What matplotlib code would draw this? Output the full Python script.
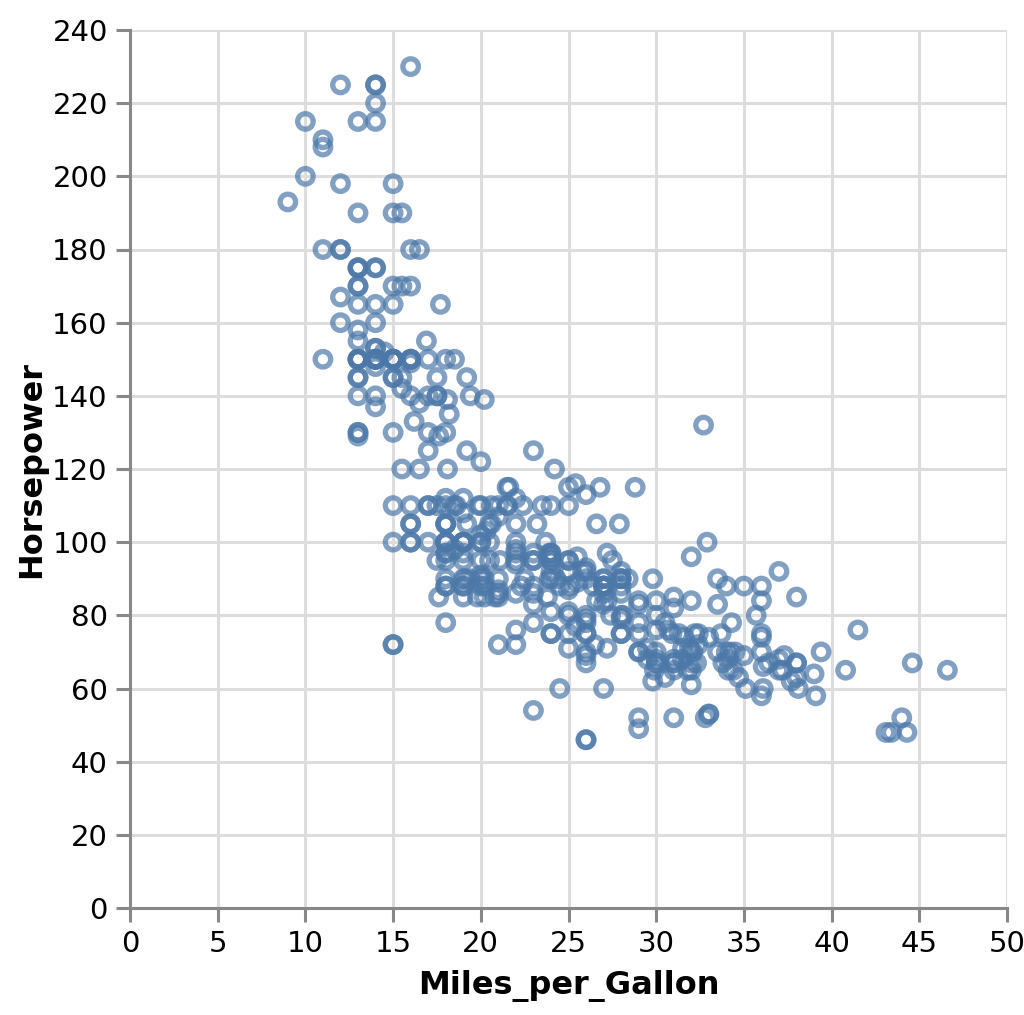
import matplotlib
matplotlib.use("Agg")
import matplotlib.pyplot as plt

# cars dataset: Miles_per_Gallon vs Horsepower (rows with missing values dropped)
mpg = [
    18, 15, 18, 16, 17, 15, 14, 14, 14, 15, 15, 14, 15, 14, 24, 22, 18, 21, 27, 26,
    25, 24, 25, 26, 21, 10, 10, 11, 9,
    27, 28, 25, 19, 16, 17, 19, 18, 14, 14, 14, 14, 12, 13, 13, 18, 22, 19, 18, 23,
    28, 30, 30, 31, 35, 27, 26,
    24, 25, 23, 20, 21, 13, 14, 15, 14, 17, 11, 13, 12, 13, 19, 15, 13, 13, 14, 18,
    22, 21, 26, 22, 28, 23, 28, 27,
    13, 14, 13, 14, 15, 12, 13, 13, 14, 13, 12, 13, 18, 16, 18, 18, 23, 26, 11, 12,
    13, 12, 18, 20, 21, 22, 18, 19, 21, 26, 15, 16, 29, 24, 20, 19, 15, 24, 20, 11,
    20, 19, 15, 31, 26, 32, 25, 16, 16, 18, 16, 13, 14, 14, 14, 29, 26, 26, 31, 32,
    28, 24, 26, 24, 26, 31,
    19, 18, 15, 15, 16, 15, 16, 14, 17, 16, 15, 18, 21, 20, 13, 29, 23, 20, 23, 24,
    25, 24, 18, 29, 19, 23, 23, 22, 25, 33,
    28, 25, 25, 26, 27, 17.5, 16, 15.5, 14.5, 22, 22, 24, 22.5, 29, 24.5, 29, 33, 20,
    18, 18.5, 17.5, 29.5, 32, 28, 26.5, 20, 13, 19, 19, 16.5, 16.5, 13, 13, 13,
    31.5, 30, 36, 25.5, 33.5, 17.5, 17, 15.5, 15, 17.5, 20.5, 19, 18.5, 16, 15.5, 15.5,
    16, 29, 24.5, 26, 25.5, 30.5, 33.5, 30, 30.5, 22, 21.5, 21.5,
    43.1, 36.1, 32.8, 39.4, 36.1, 19.9, 19.4, 20.2, 19.2, 20.5, 20.2, 25.1, 20.5, 19.4,
    20.6, 20.8, 18.6, 18.1, 19.2, 17.7, 18.1, 17.5, 30, 27.5, 27.2, 30.9, 21.1, 23.2,
    23.8, 23.9, 20.3, 17, 21.6, 16.2, 31.5, 29.5,
    21.5, 19.8, 22.3, 20.2, 20.6, 17, 17.6, 16.5, 18.2, 16.9, 15.5, 19.2, 18.5, 31.9,
    34.1, 35.7, 27.4, 25.4, 23, 27.2, 23.9, 34.2, 34.5, 31.8, 37.3, 28.4, 28.8, 26.8,
    33.5,
    41.5, 38.1, 32.1, 37.2, 28, 26.4, 24.3, 19.1, 34.3, 29.8, 31.3, 37, 32.2, 46.6,
    27.9, 40.8, 44.3, 43.4, 36.4, 30, 44.6, 33.8, 29.8, 32.7, 23.7, 35, 32.4,
    27.2, 26.6, 25.8, 23.5, 30, 39.1, 39, 35.1, 32.3, 37, 37.7, 34.1, 34.7, 34.4, 29.9,
    33, 33.7, 32.4, 32.9, 31.6, 28.1, 30.7, 25.4, 24.2, 22.4, 26.6, 20.2, 17.6,
    28, 27, 34, 31, 29, 27, 24, 36, 37, 31, 38, 36, 36, 36, 34, 38, 32, 38, 25, 38,
    26, 22, 32, 36, 27, 27, 44, 32, 28, 31,
]
horsepower = [
    130, 165, 150, 150, 140, 198, 220, 215, 225, 190, 170, 160, 150, 225, 95, 95, 97, 85, 88, 46,
    87, 90, 95, 113, 90, 215, 200, 210, 193,
    88, 90, 95, 100, 105, 100, 88, 100, 165, 175, 153, 150, 180, 170, 175, 110, 72, 100, 88, 86,
    90, 70, 76, 65, 69, 60, 70,
    95, 80, 54, 90, 86, 165, 175, 150, 153, 150, 208, 155, 160, 190, 97, 150, 130, 140, 150, 112,
    76, 87, 69, 86, 92, 97, 80, 88,
    175, 150, 145, 137, 150, 198, 150, 158, 150, 215, 225, 175, 105, 100, 100, 88, 95, 46, 150, 167,
    170, 180, 100, 88, 72, 94, 90, 85, 107, 90, 145, 230, 49, 75, 91, 112, 150, 110, 122, 180,
    95, 100, 100, 67, 80, 65, 75, 100, 110, 105, 140, 150, 150, 140, 150, 83, 67, 78, 52, 61,
    75, 75, 75, 97, 93, 67,
    95, 105, 72, 72, 170, 145, 150, 148, 110, 105, 110, 95, 110, 110, 129, 75, 83, 100, 78, 96,
    71, 97, 97, 70, 90, 95, 88, 98, 115, 53,
    86, 81, 92, 79, 83, 140, 150, 120, 152, 100, 105, 81, 90, 52, 60, 70, 53, 100,
    78, 110, 95, 71, 70, 75, 72, 102, 150, 88, 108, 120, 180, 145, 130, 150,
    68, 80, 58, 96, 70, 145, 110, 145, 130, 110, 105, 100, 98, 180, 170, 190,
    149, 78, 88, 75, 89, 63, 83, 67, 78, 97, 110, 110,
    48, 66, 52, 70, 60, 110, 140, 139, 105, 95, 85, 88, 100, 90,
    105, 85, 110, 120, 145, 165, 139, 140, 68, 95, 97, 75, 95, 105,
    85, 97, 103, 125, 115, 133, 71, 68,
    115, 85, 88, 90, 110, 130, 129, 138, 135, 155, 142, 125, 150, 71,
    65, 80, 80, 77, 125, 71, 90, 70, 70, 65, 69, 90, 115, 115,
    90,
    76, 60, 70, 65, 90, 88, 90, 90, 78, 90, 75, 92, 75, 65,
    105, 65, 48, 48, 67, 67, 67, 67, 62, 132, 100, 88, 72,
    84, 84, 92, 110, 84, 58, 64, 60, 67, 65, 62, 68, 63, 65, 65,
    74, 75, 75, 100, 74, 80, 76, 116, 120, 110, 105, 88, 85,
    88, 88, 88, 85, 84, 90, 92, 74, 68, 68, 63, 70, 88, 75, 70, 67, 67, 67, 110, 85,
    92, 112, 96, 84, 90, 86, 52, 84, 79, 82,
]

fig = plt.figure(figsize=(10.24, 10.15), dpi=100)
ax = fig.add_axes([130 / 1024, 107 / 1015, 877 / 1024, 878 / 1015])

ax.scatter(mpg, horsepower, s=125, facecolors='none', edgecolors='#4c78a8',
           linewidths=3.8, alpha=0.7, zorder=3)

ax.set_xlim(0, 50)
ax.set_ylim(0, 240)
ax.set_xticks(range(0, 51, 5))
ax.set_yticks(range(0, 241, 20))
ax.grid(True, color='#dddddd', linewidth=2.2, zorder=0)
ax.set_axisbelow(True)

for side in ['top', 'right']:
    ax.spines[side].set_visible(False)
for side in ['left', 'bottom']:
    ax.spines[side].set_color('#888888')
    ax.spines[side].set_linewidth(2.2)

ax.tick_params(axis='both', colors='#888888', length=10, width=2.2,
               labelsize=21, labelcolor='black', pad=6)

ax.set_xlabel('Miles_per_Gallon', fontsize=23, fontweight='bold')
ax.set_ylabel('Horsepower', fontsize=23, fontweight='bold')
ax.xaxis.set_label_coords(0.5, -0.071)
ax.yaxis.set_label_coords(-0.094, 0.5)

fig.savefig('out.png', dpi=100)
